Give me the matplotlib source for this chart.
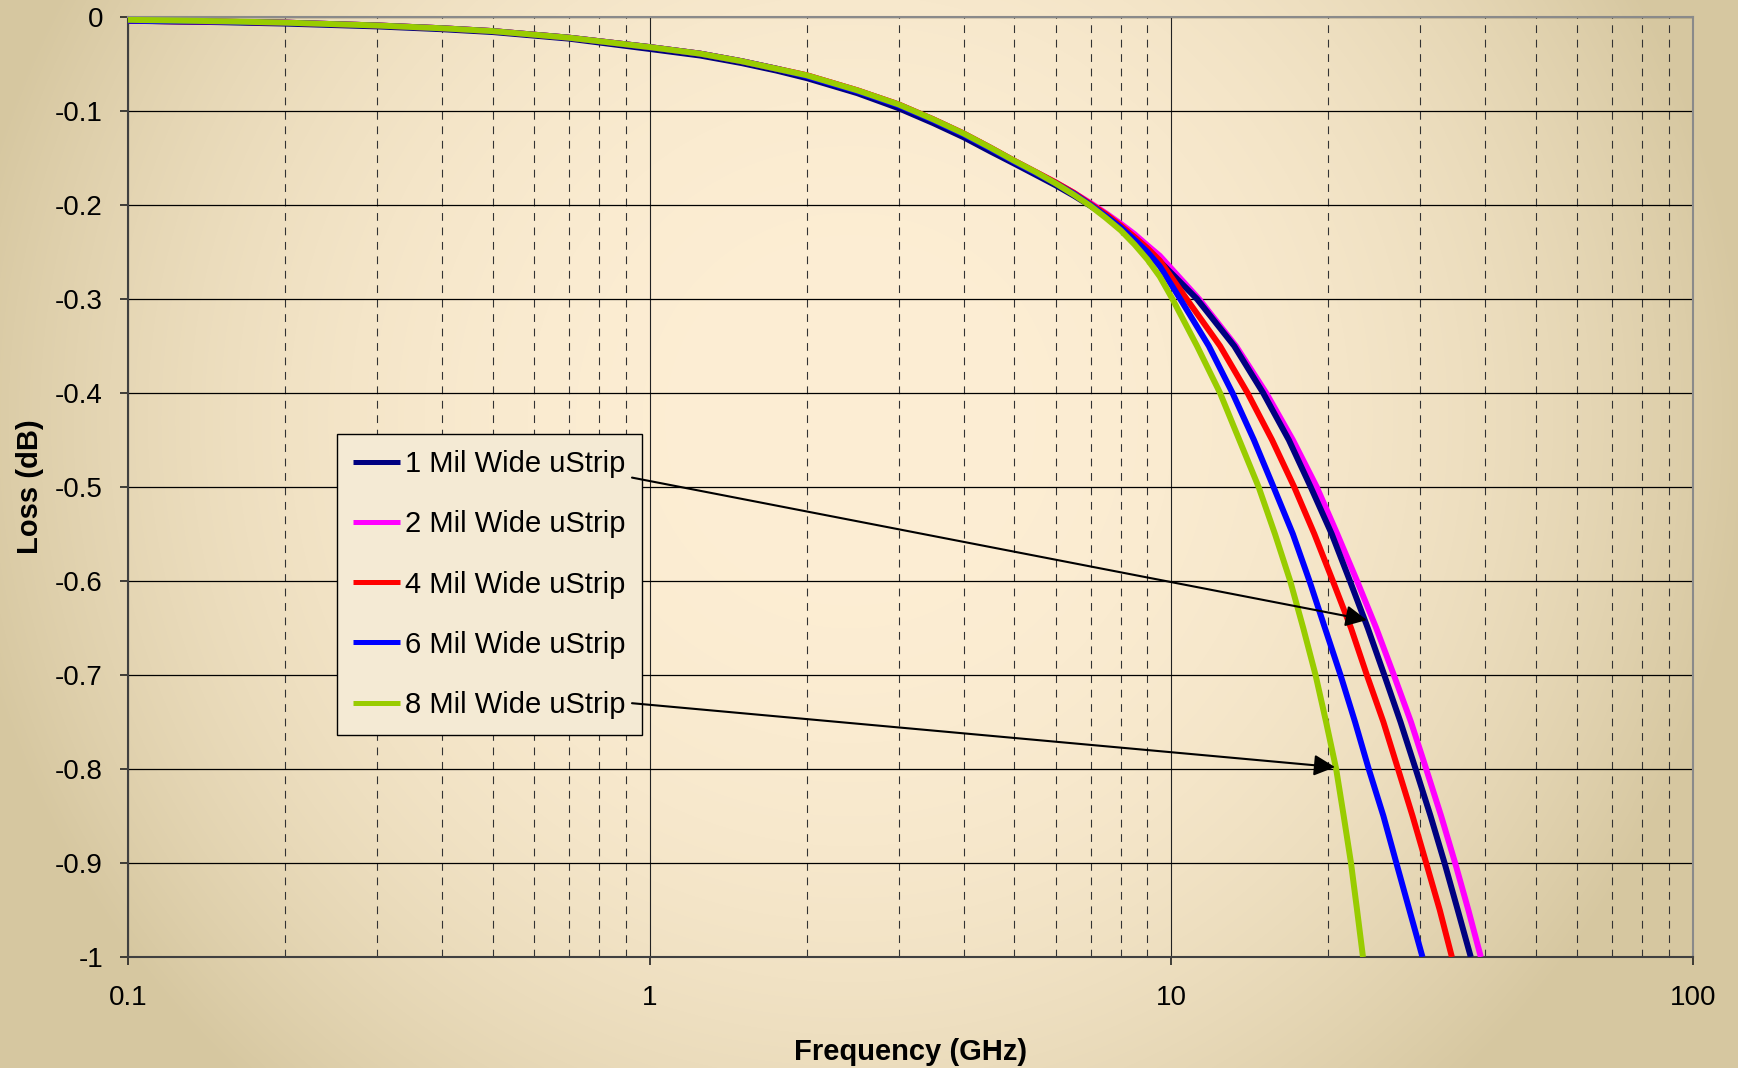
import numpy as np
import matplotlib
matplotlib.use('Agg')
from matplotlib import pyplot as plt

plt.rcParams['font.family'] = ['Liberation Sans', 'DejaVu Sans']
plt.rcParams['axes.unicode_minus'] = False

# values (frequency in GHz, loss in dB)
# low-frequency part, shared frequencies
freq_low = [0.1, 0.15, 0.2, 0.3, 0.4, 0.5, 0.7, 1, 1.25, 1.5, 1.75, 2, 2.5, 3, 3.5,
            4, 4.5, 5, 5.5, 6, 6.5, 7, 7.5, 8, 8.5, 9, 9.5]
loss_low_1mil = [-0.004, -0.0055, -0.007, -0.010, -0.013, -0.016, -0.023, -0.034, -0.041,
                 -0.049, -0.057, -0.065, -0.081, -0.097, -0.113, -0.128, -0.143, -0.156,
                 -0.168, -0.179, -0.190, -0.201, -0.212, -0.224, -0.236, -0.248, -0.260]
loss_low_2mil = [-0.004, -0.005, -0.006, -0.009, -0.012, -0.015, -0.022, -0.032, -0.039,
                 -0.047, -0.055, -0.062, -0.078, -0.093, -0.109, -0.124, -0.139, -0.153,
                 -0.165, -0.176, -0.187, -0.198, -0.209, -0.220, -0.231, -0.243, -0.254]
loss_low_4mil = [-0.004, -0.005, -0.006, -0.009, -0.012, -0.015, -0.022, -0.032, -0.039,
                 -0.047, -0.055, -0.062, -0.078, -0.093, -0.109, -0.124, -0.139, -0.153,
                 -0.165, -0.176, -0.187, -0.199, -0.210, -0.222, -0.234, -0.246, -0.259]
loss_low_6mil = [-0.004, -0.005, -0.006, -0.009, -0.012, -0.015, -0.022, -0.032, -0.039,
                 -0.047, -0.055, -0.063, -0.079, -0.094, -0.110, -0.125, -0.140, -0.154,
                 -0.166, -0.177, -0.188, -0.200, -0.212, -0.224, -0.237, -0.250, -0.265]
loss_low_8mil = [-0.003, -0.0045, -0.006, -0.009, -0.012, -0.015, -0.022, -0.032, -0.039,
                 -0.047, -0.055, -0.062, -0.078, -0.093, -0.109, -0.124, -0.139, -0.153,
                 -0.165, -0.177, -0.189, -0.201, -0.214, -0.227, -0.242, -0.258, -0.276]

# high-frequency part, shared loss levels
loss_high = [-0.3, -0.35, -0.4, -0.45, -0.5, -0.55, -0.6, -0.65, -0.7, -0.75,
             -0.8, -0.85, -0.9, -0.95, -1.0]
freq_high_1mil = [11.2, 13.2, 15.0, 16.8, 18.5, 20.3, 22.0, 23.8, 25.6, 27.5, 29.4, 31.4, 33.4, 35.4, 37.5]
freq_high_2mil = [11.3, 13.3, 15.2, 17.1, 19.0, 20.8, 22.7, 24.7, 26.7, 28.8, 30.8, 32.9, 35.0, 37.1, 39.2]
freq_high_4mil = [10.7, 12.4, 14.0, 15.6, 17.2, 18.8, 20.4, 22.1, 23.7, 25.5, 27.2, 29.0, 30.8, 32.7, 34.5]
freq_high_6mil = [10.4, 11.8, 13.1, 14.4, 15.7, 17.1, 18.4, 19.7, 21.1, 22.5, 23.9, 25.5, 27.0, 28.6, 30.3]
freq_high_8mil = [10.05, 11.2, 12.4, 13.5, 14.7, 15.8, 16.9, 17.9, 18.9, 19.8, 20.7, 21.4, 22.1, 22.7, 23.3]

labels = ['1 Mil Wide uStrip', '2 Mil Wide uStrip', '4 Mil Wide uStrip',
          '6 Mil Wide uStrip', '8 Mil Wide uStrip']
colors = ['#000080', '#ff00ff', '#ff0000', '#0000ff', '#99cc00']

yticks = [0, -0.1, -0.2, -0.3, -0.4, -0.5, -0.6, -0.7, -0.8, -0.9, -1]
ytick_labels = ['0', '-0.1', '-0.2', '-0.3', '-0.4', '-0.5', '-0.6', '-0.7', '-0.8', '-0.9', '-1']
xticks = [0.1, 1, 10, 100]
xtick_labels = ['0.1', '1', '10', '100']

W, H = 1738, 1068
fig = plt.figure(figsize=(W / 100, H / 100), dpi=100)

# radial background gradient
bg = fig.add_axes([0, 0, 1, 1], zorder=-10)
yy, xx = np.mgrid[0:H, 0:W]
d = np.sqrt(((xx - 850) / 900.0)**2 + ((yy - 420) / 900.0)**2)
t = np.clip(d, 0, 1)**2.5
c0 = np.array([253, 238, 212]) / 255.0
c1 = np.array([214, 199, 160]) / 255.0
img = c0[None, None, :] * (1 - t[..., None]) + c1[None, None, :] * t[..., None]
bg.imshow(img, aspect='auto', interpolation='bilinear')
bg.axis('off')

ax = fig.add_axes([128 / W, (H - 957) / H, 1565 / W, 940 / H])
ax.set_facecolor('none')
ax.set_axisbelow(True)

series = [(loss_low_1mil, freq_high_1mil), (loss_low_2mil, freq_high_2mil),
          (loss_low_4mil, freq_high_4mil), (loss_low_6mil, freq_high_6mil),
          (loss_low_8mil, freq_high_8mil)]
draw_order = [1, 0, 2, 3, 4]
handles = [None] * 5
for i in draw_order:
    loss_low, freq_high = series[i]
    f = freq_low + freq_high
    l = loss_low + loss_high
    line, = ax.plot(f, l, color=colors[i], lw=4.3, label=labels[i],
                    solid_capstyle='butt', solid_joinstyle='round', zorder=3)
    handles[i] = line

ax.set_xscale('log')
ax.set_xlim(0.1, 100)
ax.set_ylim(-1, 0)
ax.set_xticks(xticks)
ax.set_xticklabels(xtick_labels)
ax.set_yticks(yticks)
ax.set_yticklabels(ytick_labels)

ax.tick_params(axis='both', which='major', labelsize=20, length=6, width=1.2, color='#222222')
ax.tick_params(axis='x', which='major', pad=14)
ax.tick_params(axis='y', which='major', pad=12)
ax.tick_params(axis='x', which='minor', length=0)

ax.grid(True, which='major', axis='y', color='black', lw=0.9)
ax.grid(True, which='major', axis='x', color='#222222', lw=0.8)
ax.grid(True, which='minor', axis='x', color='#333333', lw=0.8, linestyle=(0, (7, 6)))

for side in ['left', 'bottom']:
    ax.spines[side].set_color('#404040')
    ax.spines[side].set_linewidth(1.5)
for side in ['top', 'right']:
    ax.spines[side].set_color('#8a8a8a')
    ax.spines[side].set_linewidth(1.5)

ax.set_xlabel('Frequency (GHz)', fontsize=21, fontweight='bold')
ax.set_ylabel('Loss (dB)', fontsize=21, fontweight='bold')
ax.xaxis.set_label_coords(0.5, -0.086)
ax.yaxis.set_label_coords(-0.0537, 0.5)

leg = ax.legend(handles=handles, loc='upper left', bbox_to_anchor=(0.1335, 0.556),
                borderaxespad=0, fontsize=21, handlelength=1.6, handletextpad=0.2,
                labelspacing=1.1, borderpad=0.55, fancybox=False, framealpha=1,
                facecolor='#f4ead4', edgecolor='black')
leg.get_frame().set_linewidth(1.0)
for lh in leg.get_lines():
    lh.set_linewidth(3.6)

arrow = dict(arrowstyle='-|>', color='black', lw=1.5, mutation_scale=32,
             shrinkA=0, shrinkB=0)
ax.annotate('', xy=(23.7, -0.6415), xytext=(0.925, -0.490), arrowprops=arrow, zorder=6)
ax.annotate('', xy=(20.6, -0.798), xytext=(0.925, -0.730), arrowprops=arrow, zorder=6)

plt.savefig('out.png', dpi=100)
